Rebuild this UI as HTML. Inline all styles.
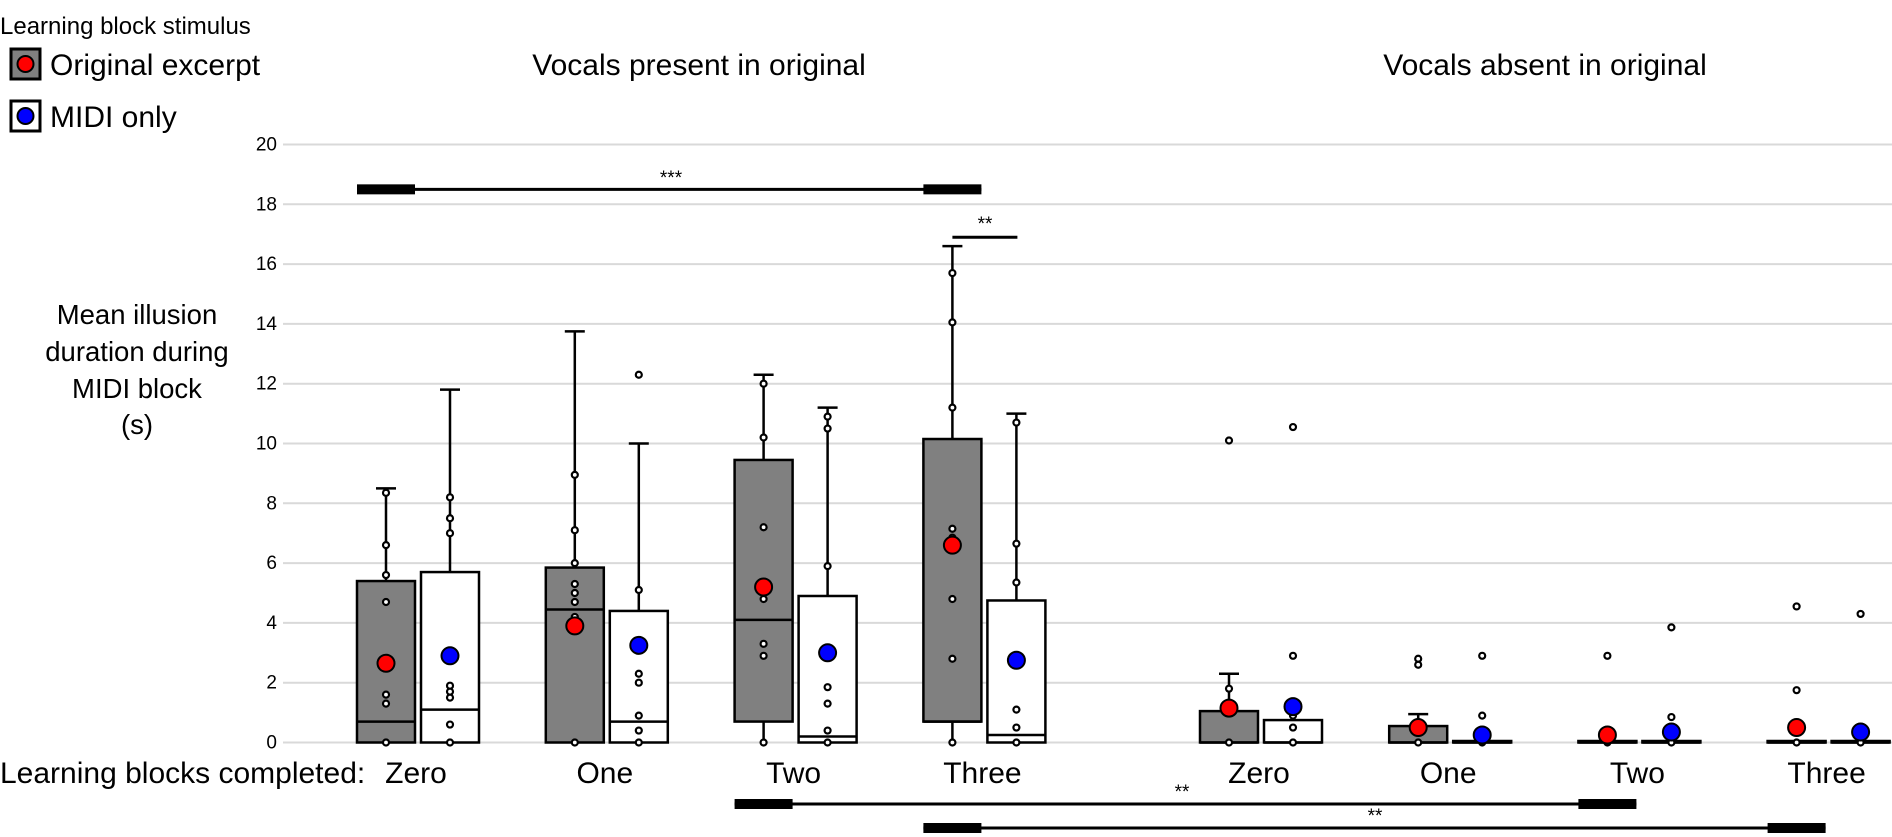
<!DOCTYPE html>
<html><head><meta charset="utf-8"><style>
html,body{margin:0;padding:0;background:#fff}
svg{display:block;font-family:"Liberation Sans",Arial,sans-serif}
</style></head><body>
<svg id="chart" width="1892" height="837" viewBox="0 0 1892 837" xmlns="http://www.w3.org/2000/svg">
<g id="grid"></g>
<g id="yticks"></g>
<g id="marks"></g>
<text x="0" y="34" font-size="24">Learning block stimulus</text>
<g>
<rect x="11" y="49" width="29" height="30" fill="#808080" stroke="#000" stroke-width="3"/>
<circle cx="25.5" cy="64" r="8" fill="#f00" stroke="#000" stroke-width="2"/>
<text x="50" y="75" font-size="30">Original excerpt</text></g>
<g>
<rect x="11" y="101" width="29" height="30" fill="#fff" stroke="#000" stroke-width="3"/>
<circle cx="25.5" cy="116" r="8" fill="#00f" stroke="#000" stroke-width="2"/>
<text x="50" y="127" font-size="30">MIDI only</text></g>
<text x="699" y="75" font-size="30" text-anchor="middle">Vocals present in original</text>
<text x="1545" y="75" font-size="30" text-anchor="middle">Vocals absent in original</text>
<text font-size="27.5" text-anchor="middle">
<tspan x="137" y="324">Mean illusion</tspan><tspan x="137" y="361">duration during</tspan><tspan x="137" y="398">MIDI block</tspan><tspan x="137" y="434">(s)</tspan></text>
<text x="0" y="783" font-size="30">Learning blocks completed:</text>
<g id="xlabels"></g>
<g id="sig"></g>
</svg>
<script>
const yTicks=[0,2,4,6,8,10,12,14,16,18,20];
const groupLabels=["Zero","One","Two","Three","Zero","One","Two","Three"];
const origQ1=[0,0,0.7,0.7,0,0,0,0];
const origMed=[0.7,4.45,4.1,0.7,0,0,0,0];
const origQ3=[5.4,5.85,9.45,10.15,1.05,0.55,0,0];
const origWhiskLo=[0,0,0,0,0,0,0,0];
const origWhiskHi=[8.5,13.75,12.3,16.6,2.3,0.95,0,0];
const origMean=[2.65,3.9,5.2,6.6,1.15,0.5,0.25,0.5];
const origDots=[[8.35,6.6,5.6,4.7,1.6,1.3,0],[8.95,7.1,6.0,5.3,5.0,4.7,4.2,0],[12.0,10.2,7.2,4.8,3.3,2.9,0],[15.7,14.05,11.2,7.15,6.85,4.8,2.8,0],[10.1,1.8,1.0,0],[2.8,2.6,0],[2.9,0.3,0],[4.55,1.75,0]];
const midiQ1=[0,0,0,0,0,0,0,0];
const midiMed=[1.1,0.7,0.2,0.25,0,0,0,0];
const midiQ3=[5.7,4.4,4.9,4.75,0.75,0.05,0,0];
const midiWhiskLo=[0,0,0,0,0,0,0,0];
const midiWhiskHi=[11.8,10.0,11.2,11.0,0.75,0.05,0,0];
const midiMean=[2.9,3.25,3.0,2.75,1.2,0.25,0.35,0.35];
const midiDots=[[8.2,7.5,7.0,1.9,1.7,1.5,0.6,0],[12.3,5.1,2.3,2.0,0.9,0.4,0],[10.9,10.5,5.9,1.85,1.3,0.4,0],[10.7,6.65,5.35,1.1,0.5,0],[10.55,2.9,0.9,0.5,0],[2.9,0.9,0],[3.85,0.85,0],[4.3,0]];
const sigLabels=["***","**","**","**"];
const sigLevels=[18.5,16.9,-99,-99];

const NS="http://www.w3.org/2000/svg";
const Y0=742.5, PX=29.9;
function y(v){return Y0-v*PX;}
function gx(i){return i<4?386+i*188.8:1229+(i-4)*189.2;}
function el(tag,attrs,parent){const e=document.createElementNS(NS,tag);for(const k in attrs)e.setAttribute(k,attrs[k]);parent.appendChild(e);return e;}
const grid=document.getElementById('grid'),yt=document.getElementById('yticks'),marks=document.getElementById('marks'),xl=document.getElementById('xlabels'),sig=document.getElementById('sig');
yTicks.forEach(t=>{
  const l=el('line',{x1:283,x2:1892,y1:y(t),y2:y(t),stroke:'#d9d9d9','stroke-width':2},grid);
  
  
  const tx=el('text',{x:277,y:y(t)+6,'font-size':19,'text-anchor':'end'},yt);
  tx.textContent=t;
  
  
});
function drawBox(cx,q1,med,q3,wl,wh,mean,dots,fill,mfill,name){
  const g=el('g',{},marks);
  
  
  if(wh>q3){el('line',{x1:cx,x2:cx,y1:y(q3),y2:y(wh),stroke:'#000','stroke-width':2.5},g);
    el('line',{x1:cx-10,x2:cx+10,y1:y(wh),y2:y(wh),stroke:'#000','stroke-width':2.5},g);}
  if(wl<q1){el('line',{x1:cx,x2:cx,y1:y(wl),y2:y(q1),stroke:'#000','stroke-width':2.5},g);}
  const h=Math.max(y(q1)-y(q3),1.5);
  el('rect',{x:cx-29,y:y(q1)-h,width:58,height:h,fill:fill,stroke:'#000','stroke-width':2.5},g);
  el('line',{x1:cx-29,x2:cx+29,y1:y(med),y2:y(med),stroke:'#000','stroke-width':2.5},g);
  dots.forEach(d=>{const c=el('circle',{cx:cx,cy:y(d),r:3,fill:'#fff',stroke:'#000','stroke-width':2.2},g);
    
    });
  const m=el('circle',{cx:cx,cy:y(mean),r:8.5,fill:mfill,stroke:'#000','stroke-width':2},g);
  
  
}
groupLabels.forEach((lab,i)=>{
  const c=gx(i);
  drawBox(c,origQ1[i],origMed[i],origQ3[i],origWhiskLo[i],origWhiskHi[i],origMean[i],origDots[i],'#808080','#f00','box-original-'+i);
  drawBox(c+64,midiQ1[i],midiMed[i],midiQ3[i],midiWhiskLo[i],midiWhiskHi[i],midiMean[i],midiDots[i],'#fff','#00f','box-midi-'+i);
  const t=el('text',{x:c+30,y:783,'font-size':30,'text-anchor':'middle'},xl);
  t.textContent=lab;
  
  
});
function bracket(x1,x2,yy,thick,label,lx,ly,name){
  const g=el('g',{},sig);
  
  
  el('line',{x1:x1,x2:x2,y1:yy,y2:yy,stroke:'#000','stroke-width':3},g);
  if(thick){el('rect',{x:x1,y:yy-5,width:58,height:10,fill:'#000'},g);el('rect',{x:x2-58,y:yy-5,width:58,height:10,fill:'#000'},g);}
  const t=el('text',{x:lx,y:ly,'font-size':19,'text-anchor':'middle'},g);t.textContent=label;
}
bracket(gx(0)-29,gx(3)+29,y(sigLevels[0]),true,sigLabels[0],671,184,'sig-bar-zero-three');
bracket(gx(3),gx(3)+65,y(sigLevels[1]),false,sigLabels[1],985,230,'sig-bar-three');
bracket(gx(2)-29,gx(6)+29,804,true,sigLabels[2],1182,798,'sig-bar-two-present-absent');
bracket(gx(3)-29,gx(7)+29,828,true,sigLabels[3],1375,822,'sig-bar-three-present-absent');
</script>
</body></html>
